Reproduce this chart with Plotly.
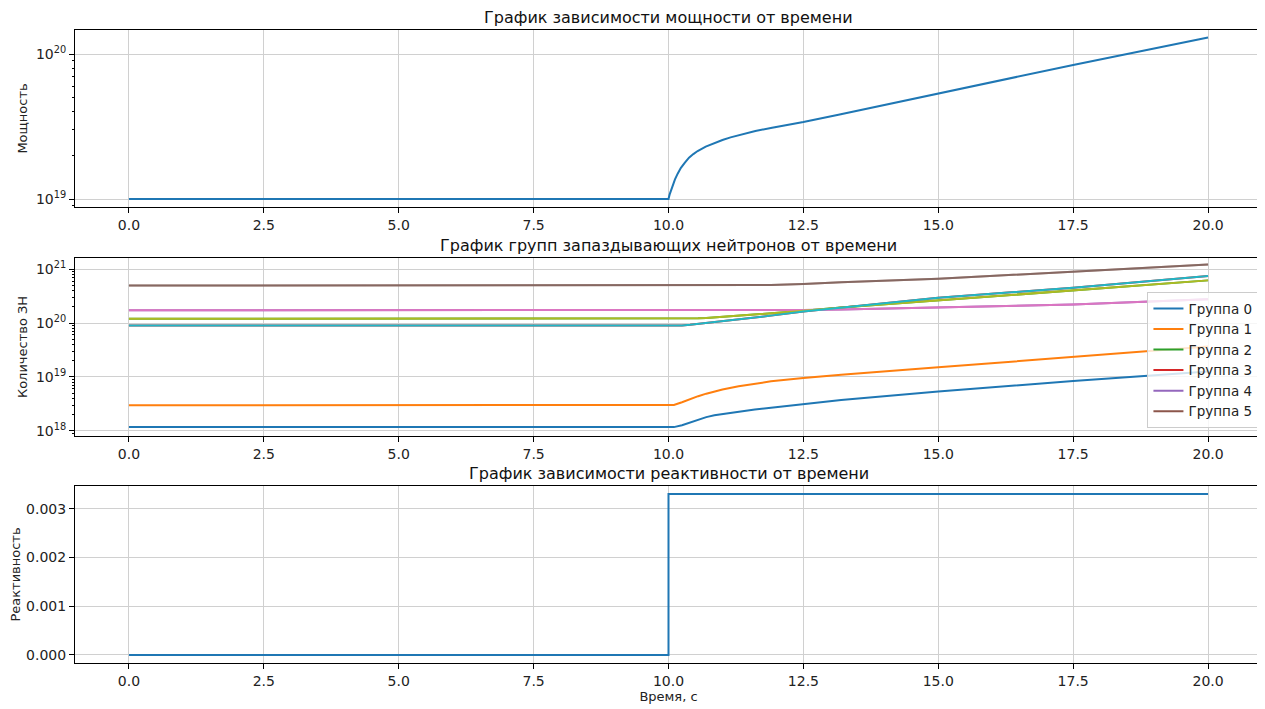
import plotly.graph_objects as go

# ---------------- data ----------------
time_power = [0, 10, 10.02, 10.05, 10.08, 10.12, 10.17, 10.23, 10.3, 10.38, 10.46, 10.54,
              10.69, 10.85, 11.0, 11.15, 11.31, 11.61, 11.92, 12.2, 12.5, 13.15, 13.89,
              15, 17.5, 20]
power = [1.0e19, 1.0e19, 1.072e19, 1.161e19, 1.245e19, 1.365e19, 1.496e19, 1.641e19,
         1.778e19, 1.928e19, 2.042e19, 2.143e19, 2.296e19, 2.432e19, 2.553e19, 2.661e19,
         2.761e19, 2.944e19, 3.105e19, 3.243e19, 3.396e19, 3.819e19, 4.365e19, 5.346e19,
         8.414e19, 1.303e20]

time_groups = [0, 10, 10.1, 10.25, 10.4, 10.55, 10.7, 10.85, 11.0, 11.3, 11.6, 11.9,
               12.5, 13.2, 15, 17.5, 20]
group0 = [1.175e18, 1.175e18, 1.175e18, 1.27e18, 1.43e18, 1.62e18, 1.80e18, 1.94e18,
          2.05e18, 2.29e18, 2.49e18, 2.69e18, 3.16e18, 3.72e18, 5.37e18, 8.41e18, 1.26e19]
group1 = [2.99e18, 2.99e18, 3.02e18, 3.40e18, 3.90e18, 4.40e18, 4.90e18, 5.40e18,
          5.85e18, 6.70e18, 7.50e18, 8.30e18, 9.55e18, 1.10e19, 1.51e19, 2.34e19, 3.67e19]
group2 = [1.20e20, 1.20e20, 1.20e20, 1.20e20, 1.21e20, 1.22e20, 1.24e20, 1.27e20,
          1.30e20, 1.36e20, 1.42e20, 1.49e20, 1.68e20, 1.93e20, 2.63e20, 4.12e20, 6.17e20]
group3 = [8.95e19, 8.95e19, 8.95e19, 9.0e19, 9.25e19, 9.60e19, 1.00e20, 1.04e20,
          1.08e20, 1.17e20, 1.27e20, 1.37e20, 1.64e20, 1.93e20, 2.95e20, 4.52e20, 7.41e20]
group4 = [1.72e20, 1.72e20, 1.72e20, 1.72e20, 1.72e20, 1.72e20, 1.72e20, 1.72e20,
          1.72e20, 1.73e20, 1.73e20, 1.74e20, 1.75e20, 1.78e20, 1.93e20, 2.21e20, 2.75e20]
group5 = [4.95e20, 4.95e20, 4.95e20, 4.95e20, 4.95e20, 4.95e20, 4.96e20, 4.96e20,
          4.97e20, 4.99e20, 5.02e20, 5.06e20, 5.30e20, 5.69e20, 6.61e20, 9.02e20, 1.22e21]
group_names = ["Группа 0", "Группа 1", "Группа 2", "Группа 3", "Группа 4", "Группа 5"]

time_rho = [0, 10, 20]
rho = [0.0, 0.0033, 0.0033]

x_ticks = [0, 2.5, 5, 7.5, 10, 12.5, 15, 17.5, 20]
titles = ["График зависимости мощности от времени",
          "График групп запаздывающих нейтронов от времени",
          "График зависимости реактивности от времени"]

# ---------------- styling ----------------
C = ["#1f77b4", "#ff7f0e", "#2ca02c", "#d62728", "#9467bd", "#8c564b",
     "#e377c2", "#7f7f7f", "#bcbd22", "#17becf"]
FONT = "DejaVu Sans"
TICK = 14
TITLE = 16
LW = 2

fig = go.Figure()
fig.add_trace(go.Scatter(x=time_power, y=power, mode="lines", showlegend=False,
                         line=dict(color=C[0], width=LW), xaxis="x", yaxis="y"))

groups = [group0, group1, group2, group3, group4, group5]
for i, g in enumerate(groups):
    fig.add_trace(go.Scatter(x=time_groups, y=g, mode="lines", name=group_names[i],
                             line=dict(color=C[i], width=LW), xaxis="x2", yaxis="y2"))
# overlapping repeats of the groups drawn with the continuing colour cycle
overlay = [(4, C[6], 0.9), (5, C[7], 0.45), (2, C[8], 0.9), (3, C[9], 0.95)]
for gi, col, op in overlay:
    fig.add_trace(go.Scatter(x=time_groups, y=groups[gi], mode="lines", showlegend=False,
                             opacity=op, line=dict(color=col, width=LW),
                             xaxis="x2", yaxis="y2"))

fig.add_trace(go.Scatter(x=time_rho, y=rho, mode="lines", line_shape="hv", showlegend=False,
                         line=dict(color=C[0], width=LW), xaxis="x3", yaxis="y3"))

axis_common = dict(showline=True, mirror=True, linecolor="black", linewidth=1,
                   ticks="outside", ticklen=5, tickwidth=1, tickcolor="black",
                   showgrid=True, gridcolor="#d0d0d0", gridwidth=1, zeroline=False,
                   automargin=False,
                   tickfont=dict(family=FONT, size=TICK, color="#222"))

xcommon = dict(axis_common, range=[-1, 21], tickvals=x_ticks,
               ticktext=[f"{v:.1f}" for v in x_ticks], domain=[0, 1])

minor_log = dict(ticks="outside", ticklen=2.5, tickwidth=1, tickcolor="black",
                 showgrid=False, dtick="D1")

dom_top = [0.7204, 1.0]
dom_mid = [0.3586, 0.6398]
dom_bot = [0.0, 0.2796]

# the page body adds an 8px offset, so the figure is 8px smaller than the window
fig.update_layout(
    width=1257, height=701,
    margin=dict(l=67, r=3, t=22, b=46),
    paper_bgcolor="white", plot_bgcolor="white",
    font=dict(family=FONT, size=TICK, color="#222"),
    xaxis=dict(xcommon, anchor="y"),
    xaxis2=dict(xcommon, anchor="y2"),
    xaxis3=dict(xcommon, anchor="y3",
                title=dict(text="Время, с", font=dict(family=FONT, size=13), standoff=4)),
    yaxis=dict(axis_common, type="log", range=[18.945, 20.166], domain=dom_top,
               tickvals=[1e19, 1e20], ticktext=["10<sup>19</sup>", "10<sup>20</sup>"],
               minor=minor_log, anchor="x",
               title=dict(text="Мощность", font=dict(family=FONT, size=13), standoff=5)),
    yaxis2=dict(axis_common, type="log", range=[17.905, 21.205], domain=dom_mid,
                tickvals=[1e18, 1e19, 1e20, 1e21],
                ticktext=["10<sup>18</sup>", "10<sup>19</sup>", "10<sup>20</sup>", "10<sup>21</sup>"],
                minor=minor_log, anchor="x2",
                title=dict(text="Количество ЗН", font=dict(family=FONT, size=13), standoff=5)),
    yaxis3=dict(axis_common, range=[-0.000165, 0.003465], domain=dom_bot,
                tickvals=[0, 0.001, 0.002, 0.003], tickformat=".3f", anchor="x3",
                title=dict(text="Реактивность", font=dict(family=FONT, size=13), standoff=6)),
    legend=dict(x=0.997, xanchor="right", y=0.371, yanchor="bottom",
                bgcolor="rgba(255,255,255,0.8)", bordercolor="#cccccc", borderwidth=1,
                font=dict(family=FONT, size=13.5, color="#222"), tracegroupgap=0),
)

for title, dom in zip(titles, [dom_top, dom_mid, dom_bot]):
    fig.add_annotation(text=title, x=0.5, xref="paper", y=dom[1], yref="paper",
                       yanchor="bottom", yshift=1, showarrow=False,
                       font=dict(family=FONT, size=TITLE, color="#111"))

fig.write_html("out.html")
